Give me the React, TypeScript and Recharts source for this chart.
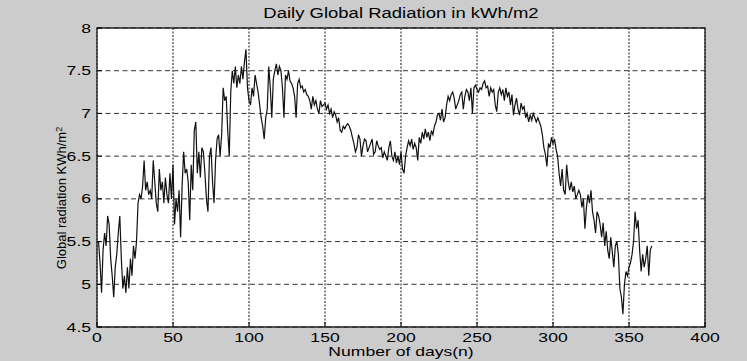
import { LineChart, Line, XAxis, YAxis, CartesianGrid, ReferenceArea } from 'recharts';

// Daily global radiation (kWh/m2), day 1..365
const dailyRadiation = [
    5.5, 5.25, 4.9, 5.4, 5.6, 5.45, 5.8, 5.7, 5.3, 5.1,
    4.85, 5.2, 5.35, 5.6, 5.8, 5.3, 4.95, 5.1, 4.9, 5.2,
    4.95, 5.3, 5.1, 5.45, 5.3, 5.5, 5.95, 6.05, 6.0, 6.15,
    6.45, 6.1, 6.2, 6.05, 6.1, 6.0, 6.45, 6.2, 5.95, 5.85,
    6.35, 6.1, 6.2, 5.95, 6.25, 6.05, 5.95, 6.3, 6.0, 6.4,
    5.7, 6.0, 5.85, 6.1, 5.55, 6.15, 6.55, 6.3, 6.35, 6.2,
    5.75, 6.4, 6.1, 6.8, 6.9, 6.3, 6.55, 6.25, 6.6, 6.55,
    6.3, 6.0, 5.85, 6.5, 6.6, 6.2, 5.95, 6.45, 6.7, 6.75,
    6.5, 6.75, 7.3, 7.15, 7.2, 6.8, 6.5, 7.25, 7.5, 7.35,
    7.55, 7.3, 7.45, 7.35, 7.55, 7.4, 7.6, 7.75, 7.3, 7.15,
    7.1, 7.3, 7.2, 7.45, 7.35, 7.25, 7.1, 6.95, 6.85, 6.7,
    6.95, 7.05, 7.55, 7.3, 6.95, 7.4, 7.5, 7.58, 7.45, 7.55,
    7.5, 7.3, 6.95, 7.45, 7.4, 7.5, 7.38, 7.35, 7.3, 7.2,
    6.95, 7.35, 7.4, 7.3, 7.32, 7.25, 7.28, 7.22, 7.2, 7.15,
    7.05, 7.2, 7.1, 7.15, 7.05, 7.0, 7.15, 7.08, 7.1, 7.12,
    7.05, 7.1, 7.0, 7.05, 6.95, 7.02, 6.98, 6.9, 6.95, 6.8,
    6.78, 6.85, 6.82, 6.86, 6.88, 6.85, 6.8, 6.72, 6.65, 6.55,
    6.6, 6.75, 6.7, 6.5, 6.62, 6.7, 6.68, 6.55, 6.6, 6.65,
    6.7, 6.52, 6.55, 6.68, 6.62, 6.58, 6.6, 6.48, 6.55, 6.5,
    6.45, 6.6, 6.68, 6.5, 6.45, 6.55, 6.42, 6.5, 6.4, 6.55,
    6.35, 6.3, 6.5, 6.6, 6.68, 6.62, 6.7, 6.58, 6.65, 6.6,
    6.45, 6.72, 6.65, 6.78, 6.7, 6.82, 6.72, 6.78, 6.68, 6.8,
    6.75, 6.85, 6.9, 6.98, 7.0, 6.92, 7.05, 6.9, 6.95, 7.1,
    7.2, 7.15, 7.22, 7.25, 7.18, 7.05, 7.1, 7.15, 7.22, 7.25,
    7.05, 7.2, 7.28, 7.25, 7.15, 7.3, 7.0, 7.3, 7.33, 7.28,
    7.25, 7.3, 7.28, 7.35, 7.38, 7.3, 7.32, 7.2, 7.3, 7.25,
    7.28, 7.1, 7.02, 7.25, 7.3, 7.22, 7.28, 7.15, 7.3, 7.2,
    7.25, 7.1, 7.22, 6.98, 7.1, 7.18, 7.05, 6.98, 7.12, 7.05,
    7.08, 6.95, 7.0, 6.9, 6.98, 6.92, 7.0, 6.95, 6.9, 6.95,
    6.9, 6.85, 6.75, 6.6, 6.52, 6.38, 6.65, 6.6, 6.72, 6.65,
    6.7, 6.58, 6.5, 6.3, 6.15, 6.35, 6.1, 6.05, 6.4, 6.2,
    6.1, 6.2, 6.08, 6.15, 6.0, 6.05, 6.1, 6.05, 5.9, 6.0,
    5.65, 5.9, 6.05, 5.95, 6.1, 5.85, 5.75, 5.6, 5.85, 5.8,
    5.7, 5.55, 5.72, 5.45, 5.62, 5.4, 5.3, 5.55, 5.38, 5.2,
    5.45, 5.5, 5.35, 4.95, 4.85, 4.65, 5.0, 5.15, 5.1, 5.2,
    5.25, 5.35, 5.5, 5.85, 5.65, 5.75, 5.4, 5.15, 5.35, 5.2,
    5.3, 5.45, 5.1, 5.4, 5.45,
];

const xTicks = [0, 50, 100, 150, 200, 250, 300, 350, 400];
const yTicks = [4.5, 5, 5.5, 6, 6.5, 7, 7.5, 8];

const data = dailyRadiation.map((value, i) => ({ day: i + 1, value }));

const FONT = '"Liberation Sans", Arial, sans-serif';
const STRETCH = 1.35;

const XTick = ({ x, y, payload }: any) => (
    <g transform={`translate(${x},${y})`}>
        <line x1={0} x2={0} y1={0} y2={-5} stroke="#000" />
        <text
            y={15}
            textAnchor="middle"
            fontSize={13}
            fontFamily={FONT}
            fill="#000"
            transform={`scale(${STRETCH},1)`}
        >
            {payload.value}
        </text>
    </g>
);

const YTick = ({ x, y, payload }: any) => (
    <g transform={`translate(${x},${y})`}>
        <line x1={0} x2={5} y1={0} y2={0} stroke="#000" />
        <text
            x={-6 / STRETCH}
            y={4.5}
            textAnchor="end"
            fontSize={13}
            fontFamily={FONT}
            fill="#000"
            transform={`scale(${STRETCH},1)`}
        >
            {payload.value}
        </text>
    </g>
);

const App = () => (
    <div
        style={{
            position: 'absolute',
            left: 0,
            top: 0,
            width: 747,
            height: 361,
            background: '#cccccc',
            fontFamily: FONT,
            color: '#000',
        }}
    >
        <LineChart
            width={747}
            height={361}
            data={data}
            margin={{ top: 28, right: 42, bottom: 0, left: 0 }}
        >
            <CartesianGrid fill="#fff" horizontal={false} stroke="#111" strokeDasharray="2 1.5" />
            <CartesianGrid vertical={false} stroke="#333" strokeDasharray="5 3.5" />
            <XAxis
                type="number"
                dataKey="day"
                domain={[0, 400]}
                ticks={xTicks}
                height={34}
                tickSize={0}
                tickMargin={0}
                axisLine={false}
                tickLine={false}
                tick={<XTick />}
            />
            <YAxis
                type="number"
                domain={[4.5, 8]}
                ticks={yTicks}
                width={97}
                tickSize={0}
                tickMargin={0}
                axisLine={false}
                tickLine={false}
                tick={<YTick />}
            />
            <Line
                type="linear"
                dataKey="value"
                stroke="#111"
                strokeWidth={1.2}
                dot={false}
                isAnimationActive={false}
            />
            <ReferenceArea x1={0} x2={400} y1={4.5} y2={8} fill="none" stroke="#222" strokeWidth={1.3} />
        </LineChart>

        <div
            style={{
                position: 'absolute',
                left: 401,
                top: 6,
                fontSize: 14,
                lineHeight: 1,
                whiteSpace: 'nowrap',
                transform: 'translateX(-50%) scaleX(1.32)',
            }}
        >
            Daily Global Radiation in kWh/m2
        </div>

        <div
            style={{
                position: 'absolute',
                left: 401,
                top: 345,
                fontSize: 13,
                lineHeight: 1,
                whiteSpace: 'nowrap',
                transform: `translateX(-50%) scaleX(${STRETCH})`,
            }}
        >
            Number of days(n)
        </div>

        <div
            style={{
                position: 'absolute',
                left: 61,
                top: 198,
                fontSize: 13,
                lineHeight: 1,
                whiteSpace: 'nowrap',
                transform: 'translate(-50%, -50%) rotate(-90deg) scaleY(1.05)',
            }}
        >
            Global radiation KWh/m<sup style={{ fontSize: 9, verticalAlign: 'top', lineHeight: 1 }}>2</sup>
        </div>
    </div>
);

export default App;
